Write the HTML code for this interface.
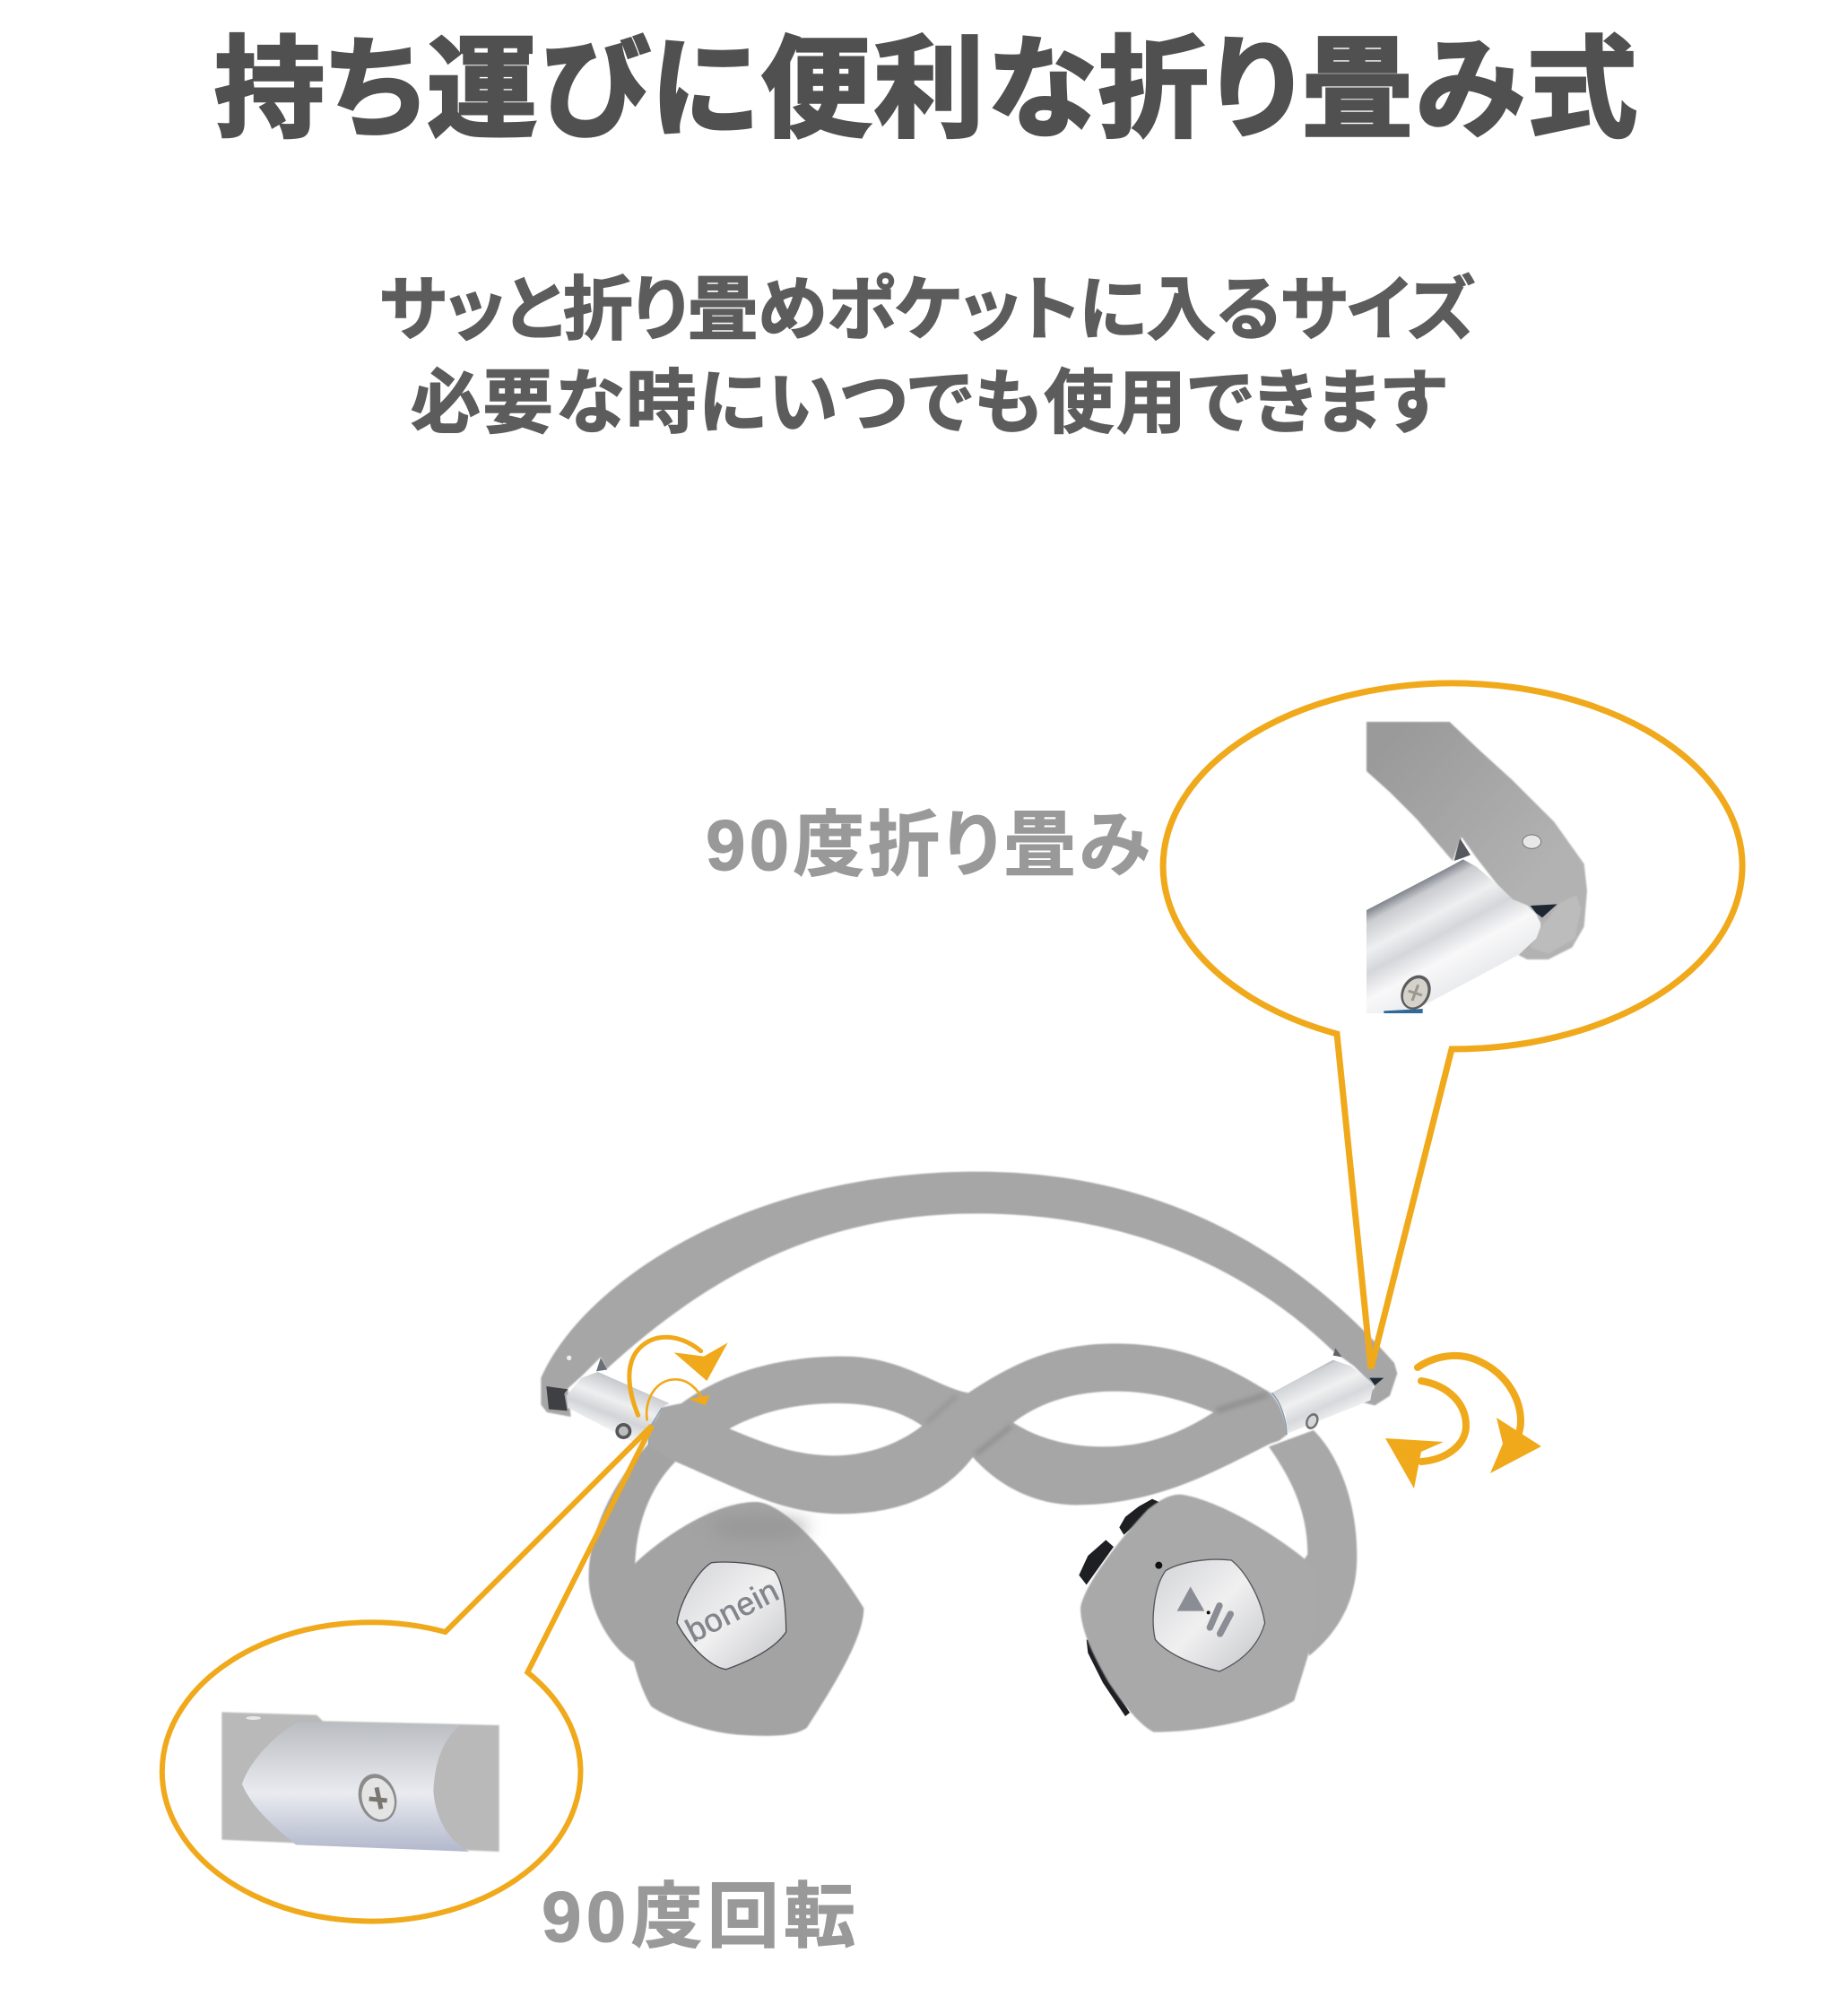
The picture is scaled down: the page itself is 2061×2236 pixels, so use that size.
<!DOCTYPE html>
<html><head><meta charset="utf-8"><style>
html,body{margin:0;padding:0;background:#fff;width:2061px;height:2236px;overflow:hidden}
svg{display:block}
.t{font-family:"Liberation Sans","Noto Sans CJK JP",sans-serif;font-weight:700;font-feature-settings:"palt"}
</style></head><body>
<svg width="2061" height="2236" viewBox="0 0 2061 2236" xmlns="http://www.w3.org/2000/svg">
<defs>
<linearGradient id="colL" gradientUnits="userSpaceOnUse" x1="340" y1="730" x2="250" y2="960"><stop offset="0" stop-color="#6d7179"/><stop offset=".15" stop-color="#c9cbce"/><stop offset=".4" stop-color="#eeeff0"/><stop offset=".6" stop-color="#d2d4d7"/><stop offset=".8" stop-color="#f3f3f4"/><stop offset="1" stop-color="#b5b7ba"/></linearGradient>
<linearGradient id="colR" gradientUnits="userSpaceOnUse" x1="2600" y1="690" x2="2710" y2="930"><stop offset="0" stop-color="#777b82"/><stop offset=".15" stop-color="#cfd1d4"/><stop offset=".4" stop-color="#f0f0f1"/><stop offset=".6" stop-color="#d6d8db"/><stop offset=".8" stop-color="#f4f4f5"/><stop offset="1" stop-color="#b9bbbe"/></linearGradient>
<linearGradient id="plate" x1="0" y1="0" x2="1" y2="1"><stop offset="0" stop-color="#d2d3d5"/><stop offset=".5" stop-color="#f0f0f1"/><stop offset="1" stop-color="#c4c5c8"/></linearGradient>
<linearGradient id="band" gradientUnits="userSpaceOnUse" x1="150" y1="150" x2="650" y2="600"><stop offset="0" stop-color="#9a9a9a"/><stop offset="1" stop-color="#b2b2b2"/></linearGradient>
<linearGradient id="tube" gradientUnits="userSpaceOnUse" x1="215" y1="610" x2="400" y2="960"><stop offset="0" stop-color="#5f646d"/><stop offset=".14" stop-color="#c9cbcf"/><stop offset=".35" stop-color="#eeeff0"/><stop offset=".52" stop-color="#d5d6da"/><stop offset=".72" stop-color="#f8f8f9"/><stop offset="1" stop-color="#e9eaec"/></linearGradient>
<linearGradient id="sil" x1="0" y1="0" x2="0" y2="1"><stop offset="0" stop-color="#b9bcc0"/><stop offset=".55" stop-color="#e9ebf0"/><stop offset="1" stop-color="#b2b8cc"/></linearGradient>
<filter id="b1" x="-5%" y="-5%" width="110%" height="110%"><feGaussianBlur stdDeviation="2.4"/></filter>
<filter id="b6" x="-50%" y="-50%" width="200%" height="200%"><feGaussianBlur stdDeviation="8"/></filter>
<filter id="b20" x="-50%" y="-80%" width="200%" height="260%"><feGaussianBlur stdDeviation="28"/></filter>
</defs>

<text class="t" x="239" y="142" font-size="123" fill="#505050" stroke="#505050" stroke-width="3.5" textLength="1587" lengthAdjust="spacing">持ち運びに便利な折り畳み式</text>
<text class="t" x="423" y="372" font-size="78" fill="#5c5c5c" stroke="#5c5c5c" stroke-width="1.5" textLength="1222" lengthAdjust="spacing">サッと折り畳めポケットに入るサイズ</text>
<text class="t" x="458" y="476" font-size="78" fill="#5c5c5c" stroke="#5c5c5c" stroke-width="1.5" textLength="1154" lengthAdjust="spacing">必要な時にいつでも使用できます</text>
<text class="t" x="787" y="970" font-size="80" fill="#999" stroke="#999" stroke-width="1" textLength="495" lengthAdjust="spacing">90度折り畳み</text>
<text class="t" x="604" y="2165" font-size="80" fill="#999" stroke="#999" stroke-width="1" textLength="350" lengthAdjust="spacing">90度回転</text>

<!-- headphones: crop-A coordinates (3x from 590,1290) -->
<g transform="translate(590,1290) scale(.33333)">
 <g filter="url(#b1)">
 <path d="M445,900 L400,960 C280,1090 195,1260 200,1420 C205,1520 270,1640 350,1690 L420,1500 L355,1360 C360,1220 410,1100 490,1020 Z" fill="#a3a3a3"/>
 <path d="M2625,915 C2720,1010 2772,1180 2770,1340 C2770,1480 2710,1590 2610,1670 L2560,1400 L2605,1330 C2605,1200 2560,1090 2475,970 Z" fill="#a8a8a8"/>
 <path fill="#a6a6a6" d="M40,740 C170,440 700,50 1500,50 C2100,50 2550,300 2895,690 L2905,725 L2880,800 L2830,832 L2790,822 L2830,770 L2760,700 L2690,650 C2400,370 2000,190 1500,190 C1000,190 620,380 260,710 L240,670 L180,730 L130,775 L140,870 L60,855 L40,830 Z"/>
 </g>
 <path d="M58,768 L130,778 L118,792 L128,850 L66,845 Z" fill="#3f4043"/>
 <path d="M240,672 L262,712 L225,718 Z" fill="#6a7079"/>
 <path d="M2698,640 L2720,670 L2690,665 Z" fill="#5f6368"/>
 <path d="M2812,740 L2860,740 L2830,765 Z" fill="#1f2a38"/>
 <path d="M125,800 L175,740 L230,720 L470,825 L440,840 L420,890 L395,962 L340,950 L130,840 Z" fill="url(#colL)"/>
 <path d="M2485,790 L2690,680 L2750,700 L2825,760 L2815,815 L2540,925 L2530,860 Z" fill="url(#colR)"/>
 <circle cx="316" cy="918" r="27" fill="#55565a"/><circle cx="316" cy="918" r="16" fill="#bdbdbd"/>
 <ellipse cx="2620" cy="885" rx="20" ry="28" transform="rotate(25 2620 885)" fill="#6e7073"/><ellipse cx="2620" cy="885" rx="13" ry="20" transform="rotate(25 2620 885)" fill="#d6d6d6"/>
 <circle cx="134" cy="673" r="8" fill="#f0f0f0"/>
 <path filter="url(#b1)" fill-rule="evenodd" fill="#a6a6a6" d="M445,838 L510,825 C640,730 820,668 1050,668 C1250,668 1360,770 1470,790 C1620,690 1760,625 1960,625 C2200,625 2350,710 2480,790 C2510,820 2535,880 2535,930 L2510,950 L2480,960 C2300,1050 2100,1165 1830,1165 C1680,1165 1560,1090 1485,1005 C1390,1130 1240,1195 1040,1195 C850,1195 700,1110 490,1020 L400,970 L405,905 L430,870 Z
 M670,910 C780,850 900,825 1030,825 C1160,825 1250,855 1315,900 C1240,960 1130,1000 1020,1000 C880,1000 770,950 670,910 Z
 M1620,890 C1710,820 1830,785 1960,785 C2090,785 2190,815 2290,855 C2180,925 2070,970 1920,970 C1800,970 1700,940 1620,890 Z"/>
 <path d="M1495,995 L1615,900" stroke="#8e8e8e" stroke-width="14" fill="none" filter="url(#b6)"/>
 <path d="M2300,850 L2470,795" stroke="#8e8e8e" stroke-width="18" fill="none" filter="url(#b6)"/>
 <path d="M1330,890 L1430,800" stroke="#969696" stroke-width="14" fill="none" filter="url(#b6)"/>
 <path d="M2485,790 C2515,820 2535,880 2535,930" stroke="#7f97ad" stroke-width="4" fill="none"/>
 <path d="M445,840 L405,905 L400,970" stroke="#8fa4b8" stroke-width="5" fill="none"/>
 <g fill="none" stroke="#f0a91b" stroke-linecap="round">
  <path d="M365,865 C330,780 320,690 370,640 C420,590 500,590 575,650" stroke-width="15"/>
  <path d="M395,880 C385,820 420,745 490,745 C530,745 565,775 585,820" stroke-width="8"/>
 </g>
 <path d="M485,655 L585,668 L665,622 L595,750 Z" fill="#f0a91b"/>
 <path d="M535,810 L605,798 L590,832 Z" fill="#f0a91b"/>
</g>

<!-- left earpiece: crop C -->
<g transform="translate(630,1620) scale(.33333)">
 <path filter="url(#b1)" fill="#a3a3a3" d="M640,165 C720,165 870,310 1000,520 C1000,620 900,780 810,920 C770,950 690,950 600,945 C480,940 350,890 290,850 C250,790 210,650 210,560 C212,480 225,410 235,370 C340,270 510,165 640,165 Z"/>
 <ellipse cx="650" cy="250" rx="170" ry="40" fill="#919191" opacity=".6" filter="url(#b20)"/>
 <path d="M490,368 C560,362 650,370 700,395 C725,420 740,500 740,600 C700,660 610,700 540,725 C500,720 430,670 375,570 C385,500 440,400 490,368 Z" fill="url(#plate)" stroke="#4a4c50" stroke-width="4" stroke-linejoin="round"/>
</g>
<text transform="translate(773,1832) rotate(-27)" font-family="Liberation Sans,sans-serif" font-size="36" fill="#83858c" stroke="#83858c" stroke-width=".6" textLength="110" lengthAdjust="spacing">bonein</text>

<!-- right earpiece: crop D -->
<g transform="translate(1170,1620) scale(.33333)">
 <path d="M235,250 L255,215 L300,180 L345,155 L378,170 L330,205 L250,275 Z" fill="#1e1f22"/>
 <path d="M100,410 L130,345 L190,292 L216,315 L125,442 Z" fill="#1e1f22"/>
 <path d="M125,625 L140,630 L200,760 L270,870 L255,882 L180,770 L130,670 Z" fill="#1e1f22"/>
 <path filter="url(#b1)" fill="#a9a9a9" d="M440,140 C530,150 720,240 885,380 C895,450 900,580 860,700 L820,830 C700,900 500,935 350,935 C310,915 260,860 200,770 C160,700 105,600 105,520 C110,470 190,340 330,190 C370,160 400,140 440,140 Z"/>
 <path d="M390,395 C430,370 520,350 610,360 C660,400 710,490 722,570 C700,650 640,700 570,732 C500,715 400,680 355,625 C340,560 350,450 390,395 Z" fill="url(#plate)" stroke="#55575b" stroke-width="4" stroke-linejoin="round"/>
 <path d="M473,448 L520,530 L428,530 Z" fill="#8b8d95"/>
 <path d="M570,512 L538,585" stroke="#8b8d95" stroke-width="22" stroke-linecap="round" fill="none"/>
 <path d="M607,540 L572,606" stroke="#8b8d95" stroke-width="22" stroke-linecap="round" fill="none"/>
 <circle cx="533" cy="535" r="6" fill="#111"/>
 <circle cx="367" cy="377" r="12" fill="#111"/>
</g>

<!-- right rotation arrows -->
<g fill="none" stroke="#f0a91b" stroke-linecap="round">
 <path d="M1581,1525 C1600,1512 1625,1508 1645,1516 C1680,1530 1696,1560 1696,1585 C1696,1595 1692,1605 1688,1612" stroke-width="8"/>
 <path d="M1585,1540 C1615,1545 1635,1565 1635,1590 C1635,1612 1612,1628 1585,1630" stroke-width="8"/>
</g>
<path d="M1669,1581 L1719,1613 L1662,1643 L1676,1610 Z" fill="#f0a91b"/>
<path d="M1545,1604 L1610,1608 L1585,1619 L1577,1660 Z" fill="#f0a91b"/>

<!-- callout top right -->
<path fill="none" stroke="#f0a91b" stroke-width="7" d="M1491,1153 A323,204 0 1,1 1619,1170 L1529,1526 Z"/>
<g transform="translate(1500,780) scale(.33333)">
 <path filter="url(#b1)" fill="url(#band)" d="M72,75 L350,75 L450,170 L560,270 L700,410 L800,550 L810,640 L800,760 L760,830 L680,870 L610,870 L580,855 L640,790 L655,750 L640,720 L610,690 L560,670 L510,620 L440,530 L390,460 L360,540 L240,400 L150,310 L72,240 Z"/>
 <path d="M720,680 L775,655 L790,700 L770,800 L680,850 L620,830 L650,770 Z" fill="#bcbcbc" filter="url(#b1)"/>
 <path d="M620,690 L710,685 L660,730 L640,715 Z" fill="#1e2833"/>
 <path d="M385,465 L420,520 L395,530 L365,540 Z" fill="#55585c"/>
 <path d="M72,705 L350,560 L395,535 L440,560 L510,620 L560,670 L610,690 L640,720 L655,760 L640,800 L580,855 L270,1020 L200,1050 L72,1050 Z" fill="url(#tube)"/>
 <path d="M130,1042 L260,1035 L260,1050 L130,1050 Z" fill="#2f6a9a"/>
 <ellipse cx="237" cy="980" rx="47" ry="60" transform="rotate(28 237 980)" fill="#5d5d5d"/>
 <ellipse cx="236" cy="982" rx="38" ry="51" transform="rotate(28 236 982)" fill="#d5d1cb"/>
 <path d="M245,955 L225,1008 M212,975 L258,990" stroke="#9a9690" stroke-width="9" fill="none"/>
 <ellipse cx="625" cy="476" rx="31" ry="23" fill="#e8e8e8" stroke="#777" stroke-width="3"/>
</g>

<!-- callout bottom left -->
<g transform="translate(160,1780) scale(.33333)">
 <path fill="none" stroke="#f0a91b" stroke-width="18" d="M1701,-570 L1010,120 A700,500 0 1,0 1285,255 L1701,-570 Z"/>
 <path d="M262,388 L580,398 L600,418 L1190,432 L1190,855 L262,815 Z" fill="#b9b9b9" filter="url(#b1)"/>
 <path d="M520,420 L1060,432 C1000,480 975,560 970,650 C975,740 1020,820 1090,855 L510,832 C450,780 370,720 330,630 C350,560 440,460 520,420 Z" fill="url(#sil)"/>
 <ellipse cx="783" cy="675" rx="62" ry="82" fill="#8b8b8b" transform="rotate(-18 783 675)"/>
 <ellipse cx="785" cy="678" rx="53" ry="71" fill="#e4e4e4" transform="rotate(-18 785 678)"/>
 <path d="M780,640 L795,712 M755,678 L815,684" stroke="#7a7672" stroke-width="15" fill="none"/>
 <ellipse cx="368" cy="408" rx="25" ry="6" fill="#e8e8e8"/>
</g>
</svg>
</body></html>
